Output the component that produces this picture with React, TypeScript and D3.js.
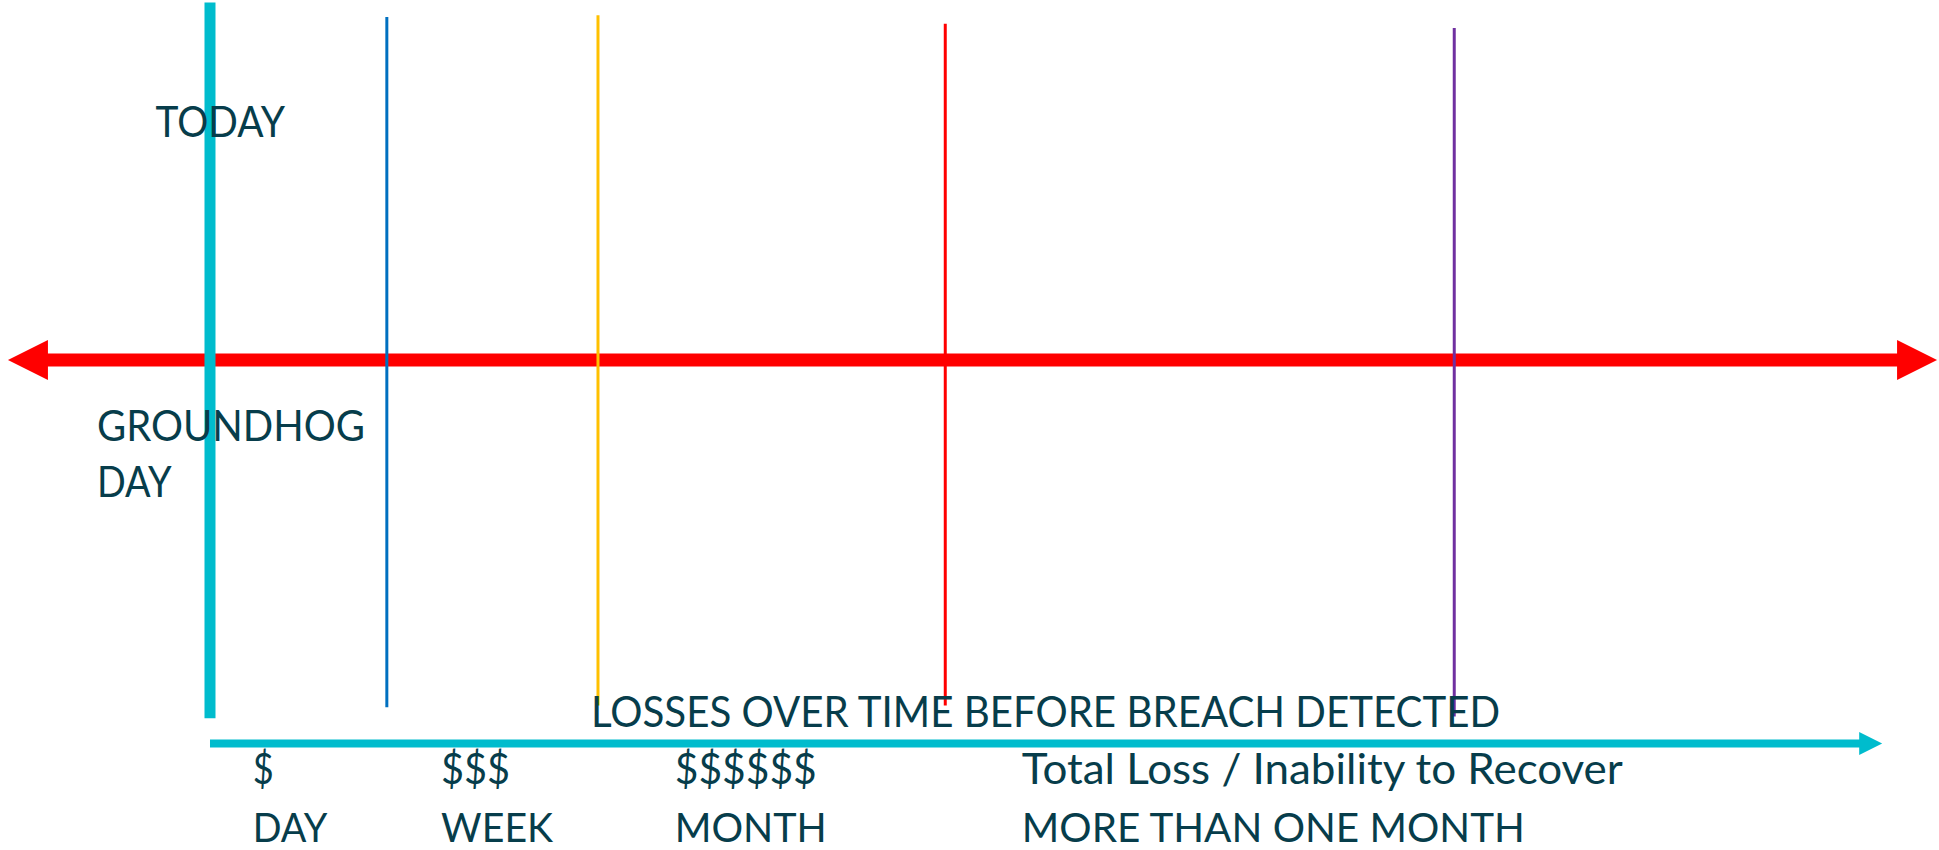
import { useEffect, useRef } from 'react';
import * as d3 from 'd3';

// horizontal positions are in % of the chart width, vertical in % of its height
const markerNames = ['TODAY', 'DAY', 'WEEK', 'MONTH', 'MORE THAN ONE MONTH'];
const markerX = [10.83, 19.95, 30.84, 48.75, 75.0];
const markerTop = [0.3, 2.0, 1.8, 2.8, 3.3];
const markerBottom = [84.5, 83.2, 83.0, 83.0, 84.3];
const markerColors = ['#00bccd', '#0070c0', '#ffc000', '#ff0000', '#7030a0'];

const lossLabels = ['$', '$$$', '$$$$$$', 'Total Loss / Inability to Recover'];
const periodLabels = ['DAY', 'WEEK', 'MONTH', 'MORE THAN ONE MONTH'];
const labelX = [13.03, 22.75, 34.8, 52.7];

const axisTitle = 'LOSSES OVER TIME BEFORE BREACH DETECTED';
const axisTitleX = 30.48;

const todayLabel = 'TODAY';
const todayLabelX = 8.02;
const groundhogLines = ['GROUNDHOG', 'DAY'];
const groundhogX = 5.0;

// the red two-way timeline and the cyan time arrow
const redLine = { from: 0.41, to: 99.9, y: 42.35 };
const cyanLine = { from: 10.83, to: 97.07, y: 87.47 };

// rendered widths of the texts (Calibri in the original), px
const textWidths: Record<string, number> = {
  TODAY: 129.5,
  GROUNDHOG: 268,
  DAY: 74.6,
  [axisTitle]: 909,
  $: 21,
  $$$: 69,
  $$$$$$: 142,
  'Total Loss / Inability to Recover': 601,
  WEEK: 112,
  MONTH: 152,
  'MORE THAN ONE MONTH': 503,
};

const App = () => {
  const svgRef = useRef<SVGSVGElement>(null);

  useEffect(() => {
    const width = 1939;
    const height = 850;
    const textColor = '#073d4b';
    const font = 'Lato, "Open Sans", sans-serif';

    const svg = d3.select(svgRef.current)
      .attr('width', width)
      .attr('height', height)
      .style('position', 'absolute')
      .style('left', 0)
      .style('top', 0)
      .style('background-color', '#ffffff');

    svg.selectAll('*').remove();

    const x = d3.scaleLinear().domain([0, 100]).range([0, width]);
    const y = d3.scaleLinear().domain([0, 100]).range([0, height]);

    // red double-headed arrow
    const rHead = 40;
    const rHalf = 20;
    const ry = y(redLine.y);
    svg.append('line')
      .attr('x1', x(redLine.from) + rHead - 2)
      .attr('x2', x(redLine.to) - rHead + 2)
      .attr('y1', ry)
      .attr('y2', ry)
      .attr('stroke', '#ff0000')
      .attr('stroke-width', 13);
    svg.append('path')
      .attr('d', `M${x(redLine.from)},${ry}L${x(redLine.from) + rHead},${ry - rHalf}L${x(redLine.from) + rHead},${ry + rHalf}Z`)
      .attr('fill', '#ff0000');
    svg.append('path')
      .attr('d', `M${x(redLine.to)},${ry}L${x(redLine.to) - rHead},${ry - rHalf}L${x(redLine.to) - rHead},${ry + rHalf}Z`)
      .attr('fill', '#ff0000');

    // vertical markers
    svg.selectAll('.marker')
      .data(markerNames)
      .enter()
      .append('line')
      .attr('class', 'marker')
      .attr('x1', (d, i) => x(markerX[i]))
      .attr('x2', (d, i) => x(markerX[i]))
      .attr('y1', (d, i) => y(markerTop[i]))
      .attr('y2', (d, i) => y(markerBottom[i]))
      .attr('stroke', (d, i) => markerColors[i])
      .attr('stroke-width', (d, i) => (i === 0 ? 11 : 3));

    // cyan time arrow
    const cy = y(cyanLine.y);
    const cHead = 23;
    const cHalf = 11.5;
    svg.append('line')
      .attr('x1', x(cyanLine.from))
      .attr('x2', x(cyanLine.to) - cHead + 1)
      .attr('y1', cy)
      .attr('y2', cy)
      .attr('stroke', markerColors[0])
      .attr('stroke-width', 8);
    svg.append('path')
      .attr('d', `M${x(cyanLine.to)},${cy}L${x(cyanLine.to) - cHead},${cy - cHalf}L${x(cyanLine.to) - cHead},${cy + cHalf}Z`)
      .attr('fill', markerColors[0]);

    const addText = (tx: number, ty: number, s: string, size = 42) => {
      const t = svg.append('text')
        .attr('x', tx)
        .attr('y', ty)
        .attr('fill', textColor)
        .style('font-family', font)
        .style('font-size', `${size}px`)
        .text(s);
      if (textWidths[s]) {
        t.attr('textLength', textWidths[s]).attr('lengthAdjust', 'spacingAndGlyphs');
      }
      return t;
    };

    // labels
    addText(x(todayLabelX), 137, todayLabel);
    groundhogLines.forEach((s, i) => addText(x(groundhogX), 441 + i * 56, s));
    addText(x(axisTitleX), 727, axisTitle);
    lossLabels.forEach((s, i) => addText(x(labelX[i]), 784, s));
    periodLabels.forEach((s, i) => addText(x(labelX[i]), 842, s, 41));
  }, []);

  return <svg ref={svgRef}></svg>;
};

export default App;
